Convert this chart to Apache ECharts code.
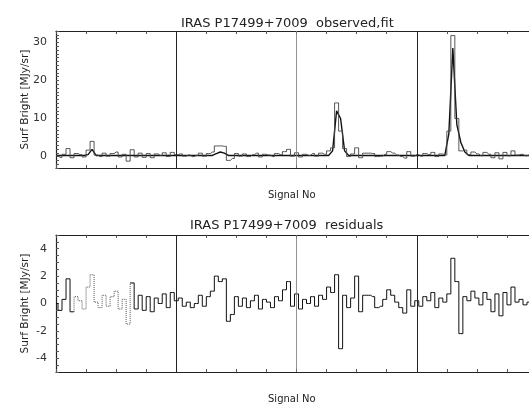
<!DOCTYPE html>
<html>
<head>
<meta charset="utf-8">
<script src="https://cdn.jsdelivr.net/npm/echarts@6/dist/echarts.min.js"></script>
<style>
html, body { margin: 0; padding: 0; background: #fff; }
#chart { width: 529px; height: 407px; }
</style>
</head>
<body>
<div id="chart"></div>
<script>
// signal numbers: two per step, four scans of 60 signals
const signalNo = [];
for (let i = 0; i < 119; i++) signalNo.push(i * 2);

const scanBreaks = [60, 120, 180];

// top panel: observed surface brightness (MJy/sr)
const observed = [
  0.3, -0.2, 0.6, 2.1, -0.3, 0.8, 0.5, -0.1, 1.7, 4.0,
  0.4, 0.0, 0.9, 0.1, 0.8, 1.2, -0.1, 0.6, -1.2, 1.8,
  -0.1, 0.9, -0.2, 0.8, -0.3, 0.7, 0.3, 1.0, 0.0, 1.1,
  0.5, 0.7, 0.1, 0.4, 0.0, 0.3, 0.9, 0.1, 0.8, 1.2,
  2.8, 2.8, 2.7, -1.0, -0.5, 0.8, 0.1, 0.7, 0.0, 0.5,
  0.9, -0.1, 0.6, 0.4, 0.0, 0.8, 0.5, 1.3, 1.9, 0.1,
  1.0, -0.1, 0.6, 0.3, 0.8, 0.1, 0.9, 0.6, 1.5, 2.3,
  14.1, 6.7, 2.1, 0.0, 0.7, 2.3, -0.3, 0.9, 0.9, 0.8,
  0.0, 0.1, 0.6, 1.3, 0.9, 0.4, 0.0, -0.4, 1.3, 0.1,
  0.5, 0.1, 0.8, 0.5, 1.1, 0.0, 0.7, 0.4, 6.7, 31.8,
  10.0, 1.5, 1.7, 0.5, 1.2, 0.7, 0.2, 1.1, 0.6, -0.3,
  1.0, -0.6, 1.1, 0.2, 1.5, 0.4, 0.6, 0.2, 0.4
];

// top panel: fitted model
const fit = [
  0.3, 0.3, 0.3, 0.3, 0.3, 0.3, 0.3, 0.3, 0.5, 1.9,
  0.3, 0.3, 0.3, 0.3, 0.3, 0.3, 0.3, 0.3, 0.3, 0.3,
  0.3, 0.3, 0.3, 0.3, 0.3, 0.3, 0.3, 0.3, 0.3, 0.3,
  0.3, 0.3, 0.3, 0.3, 0.3, 0.3, 0.3, 0.3, 0.3, 0.3,
  0.8, 1.2, 0.9, 0.3, 0.3, 0.3, 0.3, 0.3, 0.3, 0.3,
  0.3, 0.3, 0.3, 0.3, 0.3, 0.3, 0.3, 0.3, 0.3, 0.3,
  0.3, 0.3, 0.3, 0.3, 0.3, 0.3, 0.3, 0.3, 0.3, 1.5,
  12.0, 10.0, 1.5, 0.3, 0.3, 0.3, 0.3, 0.3, 0.3, 0.3,
  0.3, 0.3, 0.3, 0.3, 0.3, 0.3, 0.3, 0.3, 0.3, 0.3,
  0.3, 0.3, 0.3, 0.3, 0.3, 0.3, 0.3, 0.3, 6.0, 28.5,
  8.4, 3.7, 1.2, 0.3, 0.3, 0.3, 0.3, 0.3, 0.3, 0.3,
  0.3, 0.3, 0.3, 0.3, 0.3, 0.3, 0.3, 0.3, 0.3
];

// bottom panel: residuals (observed - fit)
const residual = [
  0.0, -0.5, 0.3, 1.8, -0.6, 0.5, 0.2, -0.4, 1.2, 2.1,
  0.1, -0.3, 0.6, -0.2, 0.5, 0.9, -0.4, 0.3, -1.5, 1.5,
  -0.4, 0.6, -0.5, 0.5, -0.6, 0.4, 0.0, 0.7, -0.3, 0.8,
  0.2, 0.4, -0.2, 0.1, -0.3, 0.0, 0.6, -0.2, 0.5, 0.9,
  2.0, 1.6, 1.8, -1.3, -0.8, 0.5, -0.2, 0.4, -0.3, 0.2,
  0.6, -0.4, 0.3, 0.1, -0.3, 0.5, 0.2, 1.0, 1.6, -0.2,
  0.7, -0.4, 0.3, 0.0, 0.5, -0.2, 0.6, 0.3, 1.2, 0.8,
  2.1, -3.3, 0.6, -0.3, 0.4, 2.0, -0.6, 0.6, 0.6, 0.5,
  -0.3, -0.2, 0.3, 1.0, 0.6, 0.1, -0.3, -0.7, 1.0, -0.2,
  0.2, -0.2, 0.5, 0.2, 0.8, -0.3, 0.4, 0.1, 0.7, 3.3,
  1.6, -2.2, 0.5, 0.2, 0.9, 0.4, -0.1, 0.8, 0.3, -0.6,
  0.7, -0.9, 0.8, -0.1, 1.2, 0.1, 0.3, -0.1, 0.1
];

// stretch of the first scan drawn dotted in the residual plot
const dottedFrom = 4, dottedTo = 19;

const FONT = 'DejaVu Sans';
const INK = '#222';

let chart = echarts.init(document.getElementById('chart'), null, { renderer: 'canvas' });

const pairs = (arr, keep) => arr.map((v, i) => [signalNo[i], keep(i) ? v : null]);

const xAxisFor = (gridIndex, position) => ({
  type: 'value', gridIndex: gridIndex, position: position,
  min: 0, max: 236, interval: 15,
  axisLine: { show: true, onZero: false, lineStyle: { color: INK, width: 1.2 } },
  axisTick: { show: true, inside: true, length: 3, lineStyle: { color: '#555' } },
  axisLabel: { show: false },
  splitLine: { show: false }
});

const breakLines = {
  silent: true, symbol: 'none', label: { show: false },
  lineStyle: { color: INK, type: 'solid', width: 1 },
  data: scanBreaks.map((x, k) => ({
    xAxis: x,
    lineStyle: k === 1 ? { color: '#777', width: 0.8 } : { color: INK, width: 1 }
  }))
};

const yAxisFor = (gridIndex, min, max, interval, labelOf) => ({
  type: 'value', gridIndex: gridIndex, min: min, max: max, interval: interval,
  name: 'Surf Bright [MJy/sr]', nameLocation: 'middle', nameGap: 25,
  nameMoveOverlap: false,
  nameTextStyle: { fontFamily: FONT, fontSize: 10.5, color: INK },
  axisLine: { show: true, onZero: false, lineStyle: { color: INK, width: 1.2 } },
  axisTick: { show: true, inside: true, length: 3, lineStyle: { color: '#555' } },
  axisLabel: { margin: 9, fontSize: 11, color: '#333', fontFamily: FONT, formatter: labelOf },
  splitLine: { show: false }
});

let option = {
  backgroundColor: '#fff',
  animation: false,
  textStyle: { fontFamily: FONT },
  title: [
    { text: 'IRAS P17499+7009  observed,fit', left: 176, top: 12,
      textStyle: { fontFamily: FONT, fontSize: 13, fontWeight: 'normal', color: INK } },
    { text: 'IRAS P17499+7009  residuals', left: 185, top: 214,
      textStyle: { fontFamily: FONT, fontSize: 13, fontWeight: 'normal', color: INK } }
  ],
  grid: [
    { left: 56, right: -3, top: 31, height: 137 },
    { left: 56, right: -3, top: 235, height: 137 }
  ],
  xAxis: [
    xAxisFor(0, 'bottom'), xAxisFor(0, 'top'),
    xAxisFor(1, 'bottom'), xAxisFor(1, 'top')
  ],
  yAxis: [
    yAxisFor(0, -3, 33, 1, v => (v % 10 === 0 ? String(v) : '')),
    yAxisFor(1, -5, 5, 0.5, v => (Math.abs(v) < 4.6 && v % 2 === 0 ? String(v) : ''))
  ],
  graphic: [
    { type: 'text', left: 268, top: 190,
      style: { text: 'Signal No', font: '10px "DejaVu Sans"', fill: INK } },
    { type: 'text', left: 268, top: 394,
      style: { text: 'Signal No', font: '10px "DejaVu Sans"', fill: INK } }
  ],
  series: [
    {
      name: 'fit', type: 'line', xAxisIndex: 0, yAxisIndex: 0,
      showSymbol: false,
      lineStyle: { color: '#111', width: 1.4 },
      data: pairs(fit, () => true),
      markLine: breakLines
    },
    {
      name: 'observed', type: 'line', xAxisIndex: 0, yAxisIndex: 0,
      step: 'middle', showSymbol: false,
      lineStyle: { color: '#444', width: 0.9 },
      data: pairs(observed, () => true)
    },
    {
      name: 'residual', type: 'line', xAxisIndex: 2, yAxisIndex: 1,
      step: 'middle', showSymbol: false,
      lineStyle: { color: '#111', width: 1 },
      data: pairs(residual, i => i <= dottedFrom || i >= dottedTo),
      markLine: breakLines
    },
    {
      name: 'residual (sparse)', type: 'line', xAxisIndex: 2, yAxisIndex: 1,
      step: 'middle', showSymbol: false,
      lineStyle: { color: '#555', width: 1, type: 'dotted' },
      data: pairs(residual, i => i >= dottedFrom && i <= dottedTo)
    }
  ]
};

chart.setOption(option);
</script>
</body>
</html>
